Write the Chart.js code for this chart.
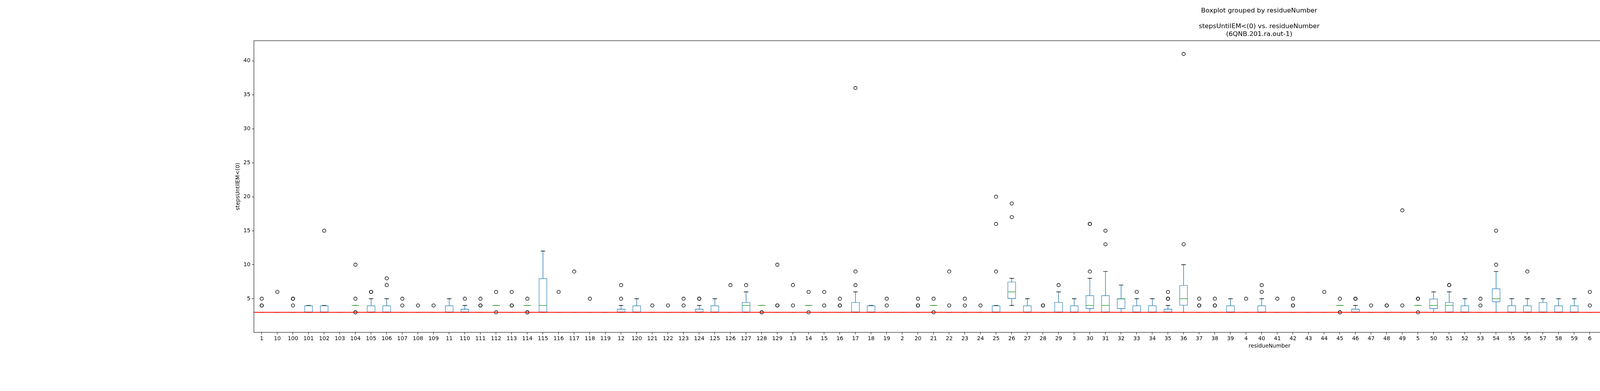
<!DOCTYPE html>
<html>
<head>
<meta charset="utf-8">
<title>Boxplot grouped by residueNumber</title>
<script src="https://cdn.jsdelivr.net/npm/chart.js@4.4.1/dist/chart.umd.min.js"></script>
<style>
  body { margin: 0; background: #fff; }
  #wrap { width: 6500px; height: 1000px; }
</style>
</head>
<body>
<div id="wrap"><canvas id="boxChart" width="6500" height="1000"></canvas></div>
<script>
// residue numbers, in the string order pandas put them in
const residues = [
  '1', '10', '100', '101', '102', '103', '104', '105', '106', '107',
  '108', '109', '11', '110', '111', '112', '113', '114', '115', '116',
  '117', '118', '119', '12', '120', '121', '122', '123', '124', '125',
  '126', '127', '128', '129', '13', '14', '15', '16', '17', '18',
  '19', '2', '20', '21', '22', '23', '24', '25', '26', '27',
  '28', '29', '3', '30', '31', '32', '33', '34', '35', '36',
  '37', '38', '39', '4', '40', '41', '42', '43', '44', '45',
  '46', '47', '48', '49', '5', '50', '51', '52', '53', '54',
  '55', '56', '57', '58', '59', '6', '60', '61', '62', '63',
  '64', '65', '66', '67', '68', '69', '7', '70', '71', '72',
  '73', '74', '75', '76', '77', '78', '79', '8', '80', '81',
  '82', '83', '84', '85', '86', '87', '88', '89', '9', '90',
  '91', '92', '93', '94', '95', '96', '97', '98', '99', 'WT'
]

// box stats per residue (same order as above)
const q1 = [
  3, 3, 3, 3, 3, 3, 4, 3, 3, 3,
  3, 3, 3, 3, 3, 4, 3, 4, 3, 3,
  3, 3, 3, 3, 3, 3, 3, 3, 3, 3,
  3, 3, 4, 3, 3, 4, 3, 3, 3, 3,
  3, 3, 3, 4, 3, 3, 3, 3, 5, 3,
  3, 3, 3, 3.5, 3, 3.5, 3, 3, 3, 4,
  3, 3, 3, 3, 3, 3, 3, 3, 3, 4,
  3, 3, 3, 3, 4, 3.5, 3, 3, 3, 4.5,
  3, 3, 3, 3, 3, 3, 4, 4, 3, 3,
  3, 3, 4, 3, 4, 3, 3, 3, 3, 3,
  4, 3, 3, 2, 3, 3, 3, 3, 3, 3,
  3, 3, 3, 3, 3, 3, 3, 3, 4, 3,
  3, 3, 3, 2, 4, 3, 3, 3, 3, 3
]
const medians = [
  3, 3, 3, 3, 3, 3, 4, 3, 3, 3,
  3, 3, 3, 3, 3, 4, 3, 4, 4, 3,
  3, 3, 3, 3, 3, 3, 3, 3, 3, 3,
  3, 4, 4, 3, 3, 4, 3, 3, 3, 3,
  3, 3, 3, 4, 3, 3, 3, 3, 6, 3,
  3, 3, 3, 4, 4, 5, 3, 3, 3, 5,
  3, 3, 3, 3, 3, 3, 3, 3, 3, 4,
  3, 3, 3, 3, 4, 4, 4, 3, 3, 5,
  3, 3, 3, 3, 3, 3, 5, 4, 3, 3,
  4, 3, 4, 3, 4, 4, 3, 3, 3, 3,
  4, 3, 3, 2, 3, 3, 3, 3, 4, 3,
  3, 3, 3, 3, 3, 3, 3, 3, 5, 3,
  3, 3, 3, 3, 5, 3, 3, 3, 4, 3
]
const q3 = [
  3, 3, 3, 4, 4, 3, 4, 4, 4, 3,
  3, 3, 4, 3.5, 3, 4, 3, 4, 8, 3,
  3, 3, 3, 3.5, 4, 3, 3, 3, 3.5, 4,
  3, 4.5, 4, 3, 3, 4, 3, 3, 4.5, 4,
  3, 3, 3, 4, 3, 3, 3, 4, 7.5, 4,
  3, 4.5, 4, 5.5, 5.5, 5, 4, 4, 3.5, 7,
  3, 3, 4, 3, 4, 3, 3, 3, 3, 4,
  3.5, 3, 3, 3, 4, 5, 4.5, 4, 3, 6.5,
  4, 4, 4.5, 4, 4, 3, 6, 4, 3, 3.5,
  5, 3, 5, 3, 4, 5, 3, 3, 3, 3.5,
  4, 3.5, 3, 3.5, 3, 3.5, 3, 4, 5, 3,
  3, 3, 4, 3, 3, 3, 3, 3, 7, 3,
  4, 4.5, 3, 4, 7, 4, 3, 4, 5, 3
]
const whiskerLow = [
  3, 3, 3, 3, 3, 3, 4, 3, 3, 3,
  3, 3, 3, 3, 3, 4, 3, 4, 3, 3,
  3, 3, 3, 3, 3, 3, 3, 3, 3, 3,
  3, 3, 4, 3, 3, 4, 3, 3, 3, 3,
  3, 3, 3, 4, 3, 3, 3, 3, 4, 3,
  3, 3, 3, 3, 3, 3, 3, 3, 3, 3,
  3, 3, 3, 3, 3, 3, 3, 3, 3, 4,
  3, 3, 3, 3, 4, 3, 3, 3, 3, 3,
  3, 3, 3, 3, 3, 3, 3, 4, 3, 3,
  3, 3, 3, 3, 4, 3, 3, 3, 3, 3,
  4, 3, 3, 2, 3, 3, 3, 3, 3, 3,
  3, 3, 3, 3, 3, 3, 3, 3, 3, 3,
  3, 3, 3, 2, 3, 3, 3, 3, 3, 3
]
const whiskerHigh = [
  3, 3, 3, 4, 4, 3, 4, 5, 5, 3,
  3, 3, 5, 4, 3, 4, 3, 4, 12, 3,
  3, 3, 3, 4, 5, 3, 3, 3, 4, 5,
  3, 6, 4, 3, 3, 4, 3, 3, 6, 4,
  3, 3, 3, 4, 3, 3, 3, 4, 8, 5,
  3, 6, 5, 8, 9, 7, 5, 5, 4, 10,
  3, 3, 5, 3, 5, 3, 3, 3, 3, 4,
  4, 3, 3, 3, 4, 6, 6, 5, 3, 9,
  5, 5, 5, 5, 5, 3, 9, 4, 3, 4,
  6, 3, 6, 3, 4, 6, 3, 3, 3, 4,
  4, 4, 3, 4, 3, 4, 3, 5, 5, 3,
  3, 3, 5, 3, 3, 3, 3, 3, 8, 3,
  5, 5, 3, 6, 9, 5, 3, 5, 6, 3
]
// outliers per residue
const fliers = [
  [4, 4, 5], [6], [4, 5, 5], [], [15], [], [3, 3, 5, 10], [6, 6], [7, 8], [4, 5],
  [4], [4], [], [5], [4, 4, 5], [3, 6], [4, 4, 6], [3, 3, 5], [], [6],
  [9], [5], [], [5, 7], [], [4], [4], [4, 5], [5, 5], [],
  [7], [7], [3, 3], [4, 4, 10], [4, 7], [3, 6], [4, 6], [4, 4, 5], [7, 9, 36], [],
  [4, 5], [], [4, 4, 5], [3, 5], [4, 9], [4, 5], [4], [9, 16, 20], [17, 19], [],
  [4, 4], [7], [], [9, 16, 16], [13, 15], [], [6], [], [5, 5, 6], [13, 41],
  [4, 4, 5], [4, 4, 5], [], [5], [6, 7], [5], [4, 4, 5], [], [6], [3, 3, 5],
  [5, 5], [4], [4, 4], [4, 18], [3, 5, 5], [], [7, 7], [], [4, 5], [10, 15],
  [], [9], [], [], [], [4, 6], [10], [5], [4], [5],
  [16], [4, 4, 5], [7], [4, 8], [3, 3, 6], [19], [4, 4], [], [4, 4, 8], [5, 16],
  [3, 5], [5, 5, 9], [6, 8], [7, 11, 11, 21], [5], [5], [], [6, 7], [9, 9, 10], [4],
  [5], [4, 4, 5], [], [4, 4], [4], [4, 5], [4, 5, 5], [5], [12, 14, 16, 18], [4, 4],
  [12, 15, 20], [7, 11], [7], [8], [13, 13], [6], [4, 4, 5], [6, 10, 10], [11, 12, 20], []
]

const yTicks = [5, 10, 15, 20, 25, 30, 35, 40]
const threshold = 3

const boxColor = '#1f77b4'
const medianColor = '#2ca02c'
const capColor = '#000000'

Chart.defaults.font.family = 'DejaVu Sans'
Chart.defaults.color = '#000'

const flierPoints = fliers.flatMap((vals, i) => vals.map(v => ({ x: residues[i], y: v })))

// whiskers, caps, medians, the red line and the axes frame
const boxLines = {
  id: 'boxLines',
  beforeDatasetsDraw(chart) {
    const { ctx, scales: { x, y } } = chart
    const step = x.getPixelForValue(1) - x.getPixelForValue(0)
    ctx.save()
    ctx.lineWidth = 1.4
    ctx.lineCap = 'square'
    residues.forEach((r, i) => {
      const cx = x.getPixelForValue(i)
      ctx.strokeStyle = boxColor
      ctx.beginPath()
      ctx.moveTo(cx, y.getPixelForValue(q1[i]))
      ctx.lineTo(cx, y.getPixelForValue(whiskerLow[i]))
      ctx.moveTo(cx, y.getPixelForValue(q3[i]))
      ctx.lineTo(cx, y.getPixelForValue(whiskerHigh[i]))
      ctx.stroke()
      ctx.strokeStyle = capColor
      ctx.beginPath()
      ;[whiskerLow[i], whiskerHigh[i]].forEach(v => {
        const py = y.getPixelForValue(v)
        ctx.moveTo(cx - step * 0.125, py)
        ctx.lineTo(cx + step * 0.125, py)
      })
      ctx.stroke()
    })
    ctx.restore()
  },
  afterDatasetDraw(chart, args) {
    if (args.index !== 0) return
    const { ctx, scales: { x, y } } = chart
    const step = x.getPixelForValue(1) - x.getPixelForValue(0)
    ctx.save()
    ctx.lineWidth = 1.4
    ctx.strokeStyle = medianColor
    ctx.beginPath()
    medians.forEach((m, i) => {
      const cx = x.getPixelForValue(i)
      const py = y.getPixelForValue(m)
      ctx.moveTo(cx - step * 0.25, py)
      ctx.lineTo(cx + step * 0.25, py)
    })
    ctx.stroke()
    ctx.restore()
  },
  afterDatasetsDraw(chart) {
    const { ctx, chartArea: a, scales: { y } } = chart
    ctx.save()
    ctx.strokeStyle = '#ff0000'
    ctx.lineWidth = 2.1
    const py = y.getPixelForValue(threshold)
    ctx.beginPath()
    ctx.moveTo(a.left, py)
    ctx.lineTo(a.right, py)
    ctx.stroke()
    ctx.strokeStyle = '#000'
    ctx.lineWidth = 1.1
    ctx.strokeRect(a.left, a.top, a.right - a.left, a.bottom - a.top)
    ctx.restore()
  }
}

new Chart(document.getElementById('boxChart').getContext('2d'), {
  type: 'bar',
  data: {
    labels: residues,
    datasets: [
      {
        label: 'box',
        data: q1.map((v, i) => [v, q3[i]]),
        backgroundColor: 'rgba(0,0,0,0)',
        borderColor: boxColor,
        borderWidth: 1.4,
        borderSkipped: false,
        categoryPercentage: 1,
        barPercentage: 0.535,
        order: 2
      },
      {
        type: 'scatter',
        label: 'fliers',
        data: flierPoints,
        pointRadius: 4.2,
        pointBorderWidth: 1.4,
        pointBorderColor: '#000',
        pointBackgroundColor: 'rgba(0,0,0,0)',
        order: 1
      }
    ]
  },
  options: {
    responsive: false,
    devicePixelRatio: 1,
    animation: false,
    events: [],
    layout: { padding: { left: 597, right: 650, top: 0, bottom: 102 } },
    plugins: {
      legend: { display: false },
      tooltip: { enabled: false },
      title: {
        display: true,
        text: 'Boxplot grouped by residueNumber',
        font: { size: 16.7, weight: 'normal' },
        padding: { top: 18, bottom: 20 }
      },
      subtitle: {
        display: true,
        text: ['stepsUntilEM<(0) vs. residueNumber', '(6QNB.201.ra.out-1)'],
        font: { size: 16.7, weight: 'normal' },
        color: '#000',
        padding: { top: 0, bottom: 6 }
      }
    },
    scales: {
      x: {
        type: 'category',
        offset: true,
        grid: { offset: false, drawOnChartArea: false, drawTicks: true, tickLength: 5, color: '#000', lineWidth: 1.1 },
        border: { display: false },
        ticks: { autoSkip: false, maxRotation: 0, minRotation: 0, padding: 3, font: { size: 13.9 } },
        title: { display: true, text: 'residueNumber', font: { size: 13.9 }, padding: { top: 4, bottom: 4 } },
        afterFit: scale => { scale.height = 48 }
      },
      y: {
        type: 'linear',
        min: 0.05,
        max: 42.95,
        afterBuildTicks: scale => { scale.ticks = yTicks.map(value => ({ value })) },
        grid: { drawOnChartArea: false, drawTicks: true, tickLength: 5, color: '#000', lineWidth: 1.1 },
        border: { display: false },
        ticks: { padding: 4, font: { size: 13.9 } },
        title: { display: true, text: 'stepsUntilEM<(0)', font: { size: 13.9 }, padding: { top: 4, bottom: 4 } },
        afterFit: scale => { scale.width = 53 }
      }
    }
  },
  plugins: [boxLines]
})
</script>
</body>
</html>
